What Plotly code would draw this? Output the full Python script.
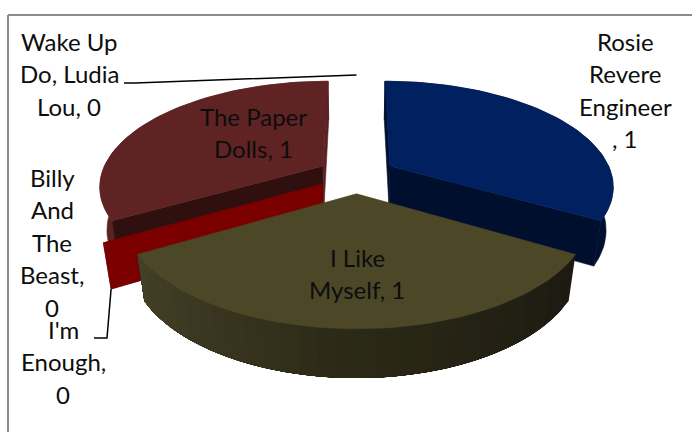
import math
import plotly.graph_objects as go

# Pie data, in drawing order clockwise from twelve o'clock
titles = ["Rosie Revere Engineer", "I Like Myself", "Billy And The Beast",
          "I'm Enough", "The Paper Dolls", "Wake Up Do, Ludia Lou"]
values = [1, 1, 0, 0, 1, 0]

# Label text, one entry per printed line
label_lines = {
    "Wake Up Do, Ludia Lou": ["Wake Up", "Do, Ludia", "Lou, 0"],
    "Rosie Revere Engineer": ["Rosie", "Revere", "Engineer", ", 1"],
    "The Paper Dolls": ["The Paper", "Dolls, 1"],
    "Billy And The Beast": ["Billy", "And", "The", "Beast,", "0"],
    "I'm Enough": ["I'm", "Enough,", "0"],
    "I Like Myself": ["I Like", "Myself, 1"],
}
label_anchor = {
    "Wake Up Do, Ludia Lou": (69, 41),
    "Rosie Revere Engineer": (625, 41),
    "The Paper Dolls": (253, 116),
    "Billy And The Beast": (52, 177),
    "I'm Enough": (63, 329),
    "I Like Myself": (357, 257),
}
LINE_STEP = 32.6
FONT = dict(family="Lato, Carlito, Calibri, sans-serif", size=24, color="#0d0d0d")

# Camera for the tilted, exploded pie
CX, CY, FX, FY, PERSP, DEPTH, SHRINK, EXPLODE = 356.5, 175, 222, 103, 0.18, 44.5, 0.028, 0.177

TOP = {"Rosie Revere Engineer": "#002060", "I Like Myself": "#4b4727", "The Paper Dolls": "#5f2323"}
OUTER = {"Rosie Revere Engineer": "#000f2e", "The Paper Dolls": "#5a2222"}
# Colours of the two radial faces: leading edge, trailing edge
RADIAL = {"Rosie Revere Engineer": ("#000f2e", "#000f2e"), "The Paper Dolls": ("#2f100f", "#5a2222")}
ZERO_WALL = "#7a0000"
RAMP = [(240, (0x45, 0x41, 0x28)), (180, (0x2b, 0x28, 0x16)), (120, (0x1c, 0x1a, 0x11))]


def project(x, y, w=0.0):
    den = 1 + PERSP * y + SHRINK * w
    return CX + FX * x / den, CY - FY * y / den + DEPTH * w / den


def point(bisector, theta, r, w=0.0):
    b, t = math.radians(bisector), math.radians(theta)
    x = EXPLODE * math.sin(b) + r * math.sin(t)
    y = EXPLODE * math.cos(b) + r * math.cos(t)
    return project(x, y, w)


def ramp_color(theta):
    for (a, ca), (b, cb) in zip(RAMP, RAMP[1:]):
        if b <= theta <= a:
            f = (a - theta) / (a - b)
            return "rgb(%d,%d,%d)" % tuple(round(p + (q - p) * f) for p, q in zip(ca, cb))
    return "rgb(%d,%d,%d)" % RAMP[-1][1]


# Angular extent of each slice, taken from the values
total = sum(values)
spans, acc = {}, 0.0
for name, v in zip(titles, values):
    sweep = 360.0 * v / total
    spans[name] = (acc, acc + sweep, acc + sweep / 2)
    acc += sweep

fig = go.Figure()


def poly(pts, color, edge=0.6):
    fig.add_trace(go.Scatter(
        x=[p[0] for p in pts] + [pts[0][0]], y=[p[1] for p in pts] + [pts[0][1]],
        mode="lines", fill="toself", fillcolor=color,
        line=dict(color=color, width=edge), hoverinfo="skip", showlegend=False))


def arc(bis, a, b, w=0.0, steps=60):
    return [point(bis, a + (b - a) * i / steps, 1, w) for i in range(steps + 1)]


def slice_body(name):
    a, b, bis = spans[name]
    # outer rim, back to front
    poly(arc(bis, a, b) + arc(bis, b, a, 1), OUTER[name])
    # radial faces
    for edge, colour in zip((a, b), RADIAL[name]):
        poly([point(bis, edge, 0), point(bis, edge, 1),
              point(bis, edge, 1, 1), point(bis, edge, 0, 1)], colour)
    poly([point(bis, a, 0)] + arc(bis, a, b), TOP[name])


slice_body("The Paper Dolls")

# Zero-sized slices leave only a radial wall
for name in ("Billy And The Beast", "I'm Enough"):
    t = spans[name][0]
    poly([point(t, t, 0), point(t, t, 1), point(t, t, 1, 1), point(t, t, 0, 1)], ZERO_WALL)

slice_body("Rosie Revere Engineer")

# Front slice: rim shaded in narrow overlapping bands, painted from right to left
name = "I Like Myself"
a, b, bis = spans[name]
n = 30
for i in range(n):
    t0, t1 = a + (b - a) * i / n, b
    poly(arc(bis, t0, t1, 0, 20) + arc(bis, t1, t0, 1, 20), ramp_color(t0 + (b - a) / n / 2), edge=0)
poly([point(bis, a, 0)] + arc(bis, a, b), TOP[name])

# Leader lines from the outside labels to their zero-sized slices
wake = spans["Wake Up Do, Ludia Lou"][0]
wake_end = point(wake, wake, 1)
enough = spans["I'm Enough"][0]
enough_end = point(enough, enough, 1, 1)
for xs, ys in (([124, 135, wake_end[0]], [83, 83, wake_end[1]]),
               ([94, 107, enough_end[0]], [338, 338, enough_end[1]])):
    fig.add_trace(go.Scatter(x=xs, y=ys, mode="lines", line=dict(color="#000000", width=1.5),
                             hoverinfo="skip", showlegend=False))

annotations = []
for name, lines in label_lines.items():
    ax, ay = label_anchor[name]
    for i, text in enumerate(lines):
        annotations.append(dict(x=ax, y=ay + i * LINE_STEP, text=text, showarrow=False,
                                xanchor="center", yanchor="middle", font=FONT))

fig.update_layout(
    width=692, height=432, margin=dict(l=0, r=0, t=0, b=0),
    paper_bgcolor="#ffffff", plot_bgcolor="#ffffff", showlegend=False,
    xaxis=dict(range=[0, 692], visible=False, fixedrange=True),
    yaxis=dict(range=[432, 0], visible=False, fixedrange=True),
    annotations=annotations,
    shapes=[dict(type="line", x0=8, y0=15, x1=692, y1=15, line=dict(color="#8c8c8c", width=2)),
            dict(type="line", x0=8, y0=15, x1=8, y1=432, line=dict(color="#8c8c8c", width=2))],
)
fig.write_html("out.html", config=dict(displayModeBar=False))
